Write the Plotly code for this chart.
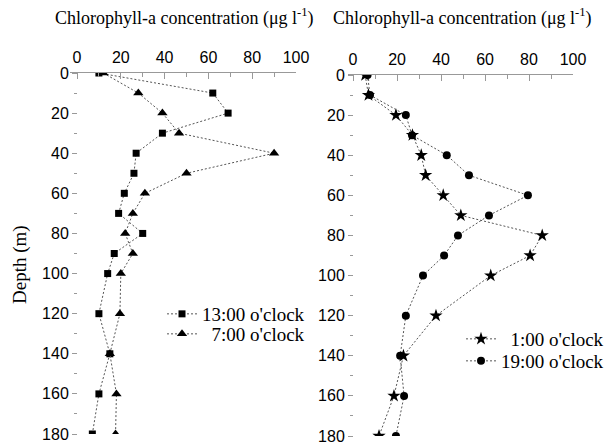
import plotly.graph_objects as go

depth = [0, 10, 20, 30, 40, 50, 60, 70, 80, 90, 100, 120, 140, 160, 180]

chl_13 = [10, 62, 69, 39, 27, 26, 21.6, 19, 30, 17, 14, 10, 15, 10, 7]
chl_07 = [12, 28, 39, 46.6, 90, 50, 31, 25.5, 22, 25.5, 20, 19.6, 15, 18, 17.6]
chl_01 = [5.5, 7, 19.5, 27, 31, 33, 41, 49, 86, 80.5, 62.6, 37.7, 22.9, 18.6, 11.8]
chl_19 = [6.6, 7.7, 24, 26.8, 42.6, 52.7, 79.5, 61.8, 47.7, 41.4, 31.8, 24, 21.4, 23.2, 19.5]

x_ticks = [0, 20, 40, 60, 80, 100]
y_ticks = [0, 20, 40, 60, 80, 100, 120, 140, 160, 180]

x_title = "Chlorophyll-a concentration (μg l<sup>-1</sup>)"
y_title = "Depth (m)"

W, H = 607, 445
SERIF = "Times New Roman"
SANS = "Arial"
LINE = dict(color="#555555", width=1, dash="2px,2px")

fig = go.Figure()

def add(x, name, symbol, size, xa, ya, legend):
    fig.add_trace(go.Scatter(
        x=x, y=depth, name=name, mode="lines+markers",
        line=LINE, marker=dict(symbol=symbol, size=size, color="black"),
        xaxis=xa, yaxis=ya, legend=legend, cliponaxis=True))

add(chl_13, "13:00 o'clock", "square", 7, "x", "y", "legend")
add(chl_07, "\u00a0\u00a07:00 o'clock", "triangle-up", 9, "x", "y", "legend2")
add(chl_01, "\u00a0\u00a01:00 o'clock", "star", 10, "x2", "y2", "legend3")
add(chl_19, "19:00 o'clock", "circle", 8, "x2", "y2", "legend4")

def px_x(p):
    return p / W

def px_y(p):
    return 1 - p / H

xcommon = dict(side="top", showline=True, linecolor="#999999", linewidth=1,
               ticks="inside", ticklen=6, tickcolor="#999999",
               tickvals=x_ticks, ticklabelstandoff=3, automargin=False,
               minor=dict(ticks="inside", ticklen=4, dtick=10, tickcolor="#999999"),
               showgrid=False, zeroline=False,
               tickfont=dict(family=SANS, size=16, color="black"))
ycommon = dict(range=[180, 0], showline=False, ticks="outside", ticklen=5,
               tickcolor="#999999", tickvals=y_ticks, automargin=False,
               minor=dict(ticks="outside", ticklen=3, dtick=10, tickcolor="#999999"),
               showgrid=False, zeroline=False,
               tickfont=dict(family=SANS, size=16, color="black"))

def leg(xp, yp):
    return dict(x=px_x(xp), y=px_y(yp), xanchor="left", yanchor="top",
                bgcolor="rgba(0,0,0,0)", borderwidth=0,
                font=dict(family=SERIF, size=19, color="black"))

fig.update_layout(
    width=W, height=H, margin=dict(l=0, r=0, t=0, b=0, autoexpand=False),
    paper_bgcolor="white", plot_bgcolor="white",
    font=dict(family=SERIF),
    xaxis=dict(domain=[px_x(70), px_x(296)], range=[-3.2, 100], anchor="y", **xcommon),
    yaxis=dict(domain=[px_y(434), px_y(73)], anchor="free", position=px_x(77), **ycommon),
    xaxis2=dict(domain=[px_x(348), px_x(573)], range=[-2.3, 100], anchor="y2", **xcommon),
    yaxis2=dict(domain=[px_y(436), px_y(75)], anchor="free", position=px_x(353), **ycommon),
    legend=leg(162, 295),
    legend2=leg(162, 315),
    legend3=leg(461, 320),
    legend4=leg(461, 342),
    showlegend=True,
    annotations=[
        dict(text=x_title, x=px_x(184), y=px_y(17), xref="paper", yref="paper",
             showarrow=False, xanchor="center", yanchor="middle",
             font=dict(family=SERIF, size=18, color="black")),
        dict(text=x_title, x=px_x(462), y=px_y(17), xref="paper", yref="paper",
             showarrow=False, xanchor="center", yanchor="middle",
             font=dict(family=SERIF, size=18, color="black")),
        dict(text=y_title, x=px_x(20), y=px_y(265), xref="paper", yref="paper",
             showarrow=False, xanchor="center", yanchor="middle", textangle=-90,
             font=dict(family=SERIF, size=19, color="black")),
    ],
)

fig.write_html("out.html")
